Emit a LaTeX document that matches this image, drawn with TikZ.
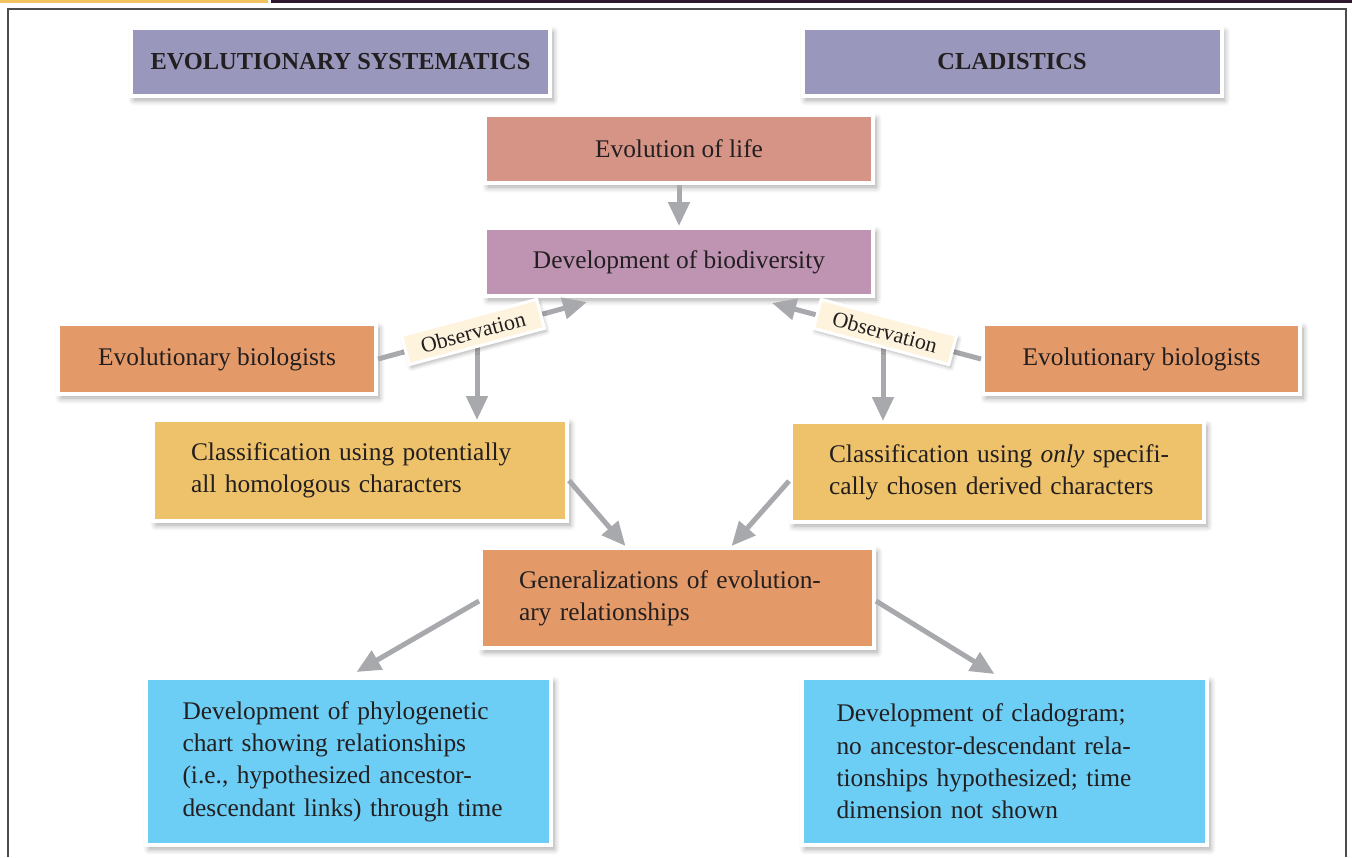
\documentclass[tikz,border=0pt]{standalone}
\usepackage{fontspec}
\setmainfont{Liberation Serif}
\usepackage{xcolor}
\usetikzlibrary{arrows.meta,positioning,calc,shadows.blur}

\definecolor{headfill}{RGB}{153,152,188}
\definecolor{evofill}{RGB}{214,148,135}
\definecolor{devfill}{RGB}{190,148,178}
\definecolor{biofill}{RGB}{228,154,104}
\definecolor{clsfill}{RGB}{238,194,106}
\definecolor{chartfill}{RGB}{109,206,245}
\definecolor{obsfill}{RGB}{254,244,222}
\definecolor{flowgray}{RGB}{167,169,172}
\definecolor{inkdark}{RGB}{35,31,32}

\begin{document}
\begin{tikzpicture}[
    x=0.5pt,y=-0.5pt,
    flow/.style={-{Triangle[length=12pt,width=10.5pt]},line width=2.5pt,draw=flowgray},
    card/.style={draw=white,line width=2pt,inner sep=0pt,text=inkdark,
      font=\fontsize{12.7}{16.2}\selectfont,
      blur shadow={shadow xshift=1.5pt,shadow yshift=-2pt,
        shadow blur radius=3pt,shadow blur steps=8,shadow opacity=35}},
    header/.style={card,fill=headfill,minimum width=209.5pt,minimum height=34pt,
      font=\fontsize{12.2}{14}\selectfont\bfseries},
    single/.style={card,minimum width=194pt,minimum height=34pt},
    multi/.style={card,align=left},
    obslabel/.style={draw=white,line width=1.5pt,fill=obsfill,text=inkdark,
      font=\fontsize{11}{12}\selectfont,minimum width=70pt,minimum height=15pt,
      inner sep=0pt,
      blur shadow={shadow xshift=1pt,shadow yshift=-1.5pt,
        shadow blur radius=2pt,shadow blur steps=6,shadow opacity=30}}
  ]
    \useasboundingbox (0,0) rectangle (1352,857);

    % page frame
    \fill[fill={rgb,255:red,240;green,194;blue,96}] (0,0) rectangle (268,3);
    \fill[fill={rgb,255:red,48;green,24;blue,44}] (271,0) rectangle (1352,3);
    \draw[line width=1.2pt,draw=black!70] (8,857) -- (8,9) -- (1346,9) -- (1346,857);

    % column headings
    \node[header] (hdES) at (340.5,62) {EVOLUTIONARY SYSTEMATICS};
    \node[header] (hdCL) at (1012,62) {CLADISTICS};

    % shared trunk
    \node[single,fill=evofill] (evo) at (679,149) {Evolution of life};
    \node[single,fill=devfill] (bio) at (679,262) {Development of biodiversity};

    % observers on both sides
    \node[card,fill=biofill,minimum width=159pt,minimum height=35pt] (bioL) at (217,359)
      {Evolutionary biologists};
    \node[card,fill=biofill,minimum width=158.5pt,minimum height=35pt] (bioR) at (1141.5,359)
      {Evolutionary biologists};

    % classification boxes
    \node[multi,fill=clsfill,minimum width=207pt,minimum height=50.5pt,text width=169pt]
      (clsL) at (360,470.5)
      {Classification using potentially\\all homologous characters};
    \node[multi,fill=clsfill,minimum width=206.5pt,minimum height=50pt,text width=168.5pt]
      (clsR) at (997.5,472)
      {\mbox{Classification using \emph{only} specifi-}\\cally chosen derived characters};

    \node[multi,fill=biofill,minimum width=196.5pt,minimum height=50pt,text width=158.5pt]
      (gen) at (677.5,598)
      {Generalizations of evolution-\\ary relationships};

    % results
    \node[multi,fill=chartfill,minimum width=202.5pt,minimum height=83.5pt,text width=166pt]
      (chartL) at (348.5,761.5)
      {Development of phylogenetic\\chart showing relationships\\(i.e., hypothesized ancestor-\\\mbox{descendant links) through time}};
    \node[multi,fill=chartfill,minimum width=202.5pt,minimum height=83.5pt,text width=168pt]
      (chartR) at (1004.5,761.5)
      {Development of cladogram;\\no ancestor-descendant rela-\\tionships hypothesized; time\\dimension not shown};

    % connectors
    \coordinate (obsLpos) at (473,332);
    \coordinate (obsRpos) at (885,332);
    \coordinate (obsLtip) at (587,302);
    \coordinate (obsRtip) at (772,303);
    \draw[flow] (evo) -- (bio);
    \draw[flow] (bioL.east) -- (obsLtip);
    \draw[flow] (bioR.west) -- (obsRtip);
    \draw[flow] (obsLpos -| 477,0) -- (477,420);
    \draw[flow] (obsRpos -| 883,0) -- (883,421);
    \draw[flow] ([yshift=-5pt]clsL.east) -- ([xshift=-26pt]gen.north);
    \draw[flow] ([yshift=-4.5pt]clsR.west) -- ([xshift=27pt]gen.north);
    \draw[flow] ([yshift=-1.5pt]gen.west) -- ([xshift=4pt,yshift=2pt]chartL.north);
    \draw[flow] ([yshift=-1.5pt]gen.east) -- ([xshift=-5pt,yshift=1pt]chartR.north);

    \node[obslabel,rotate=15] (obsL) at (obsLpos) {Observation};
    \node[obslabel,rotate=-15] (obsR) at (obsRpos) {Observation};
\end{tikzpicture}
\end{document}
